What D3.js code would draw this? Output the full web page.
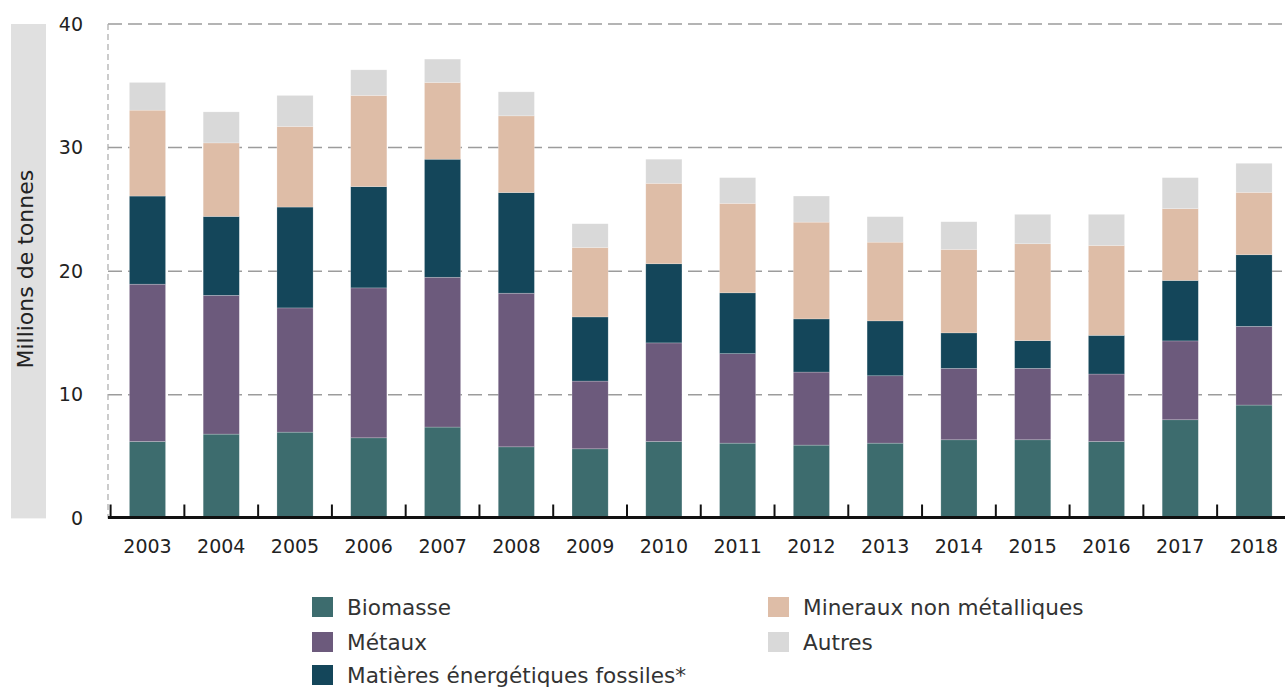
<!DOCTYPE html>
<html><head><meta charset="utf-8">
<script src="https://cdn.jsdelivr.net/npm/d3@7"></script>
<style>body{margin:0;background:#fff}svg{display:block}text{font-family:"DejaVu Sans",sans-serif}</style>
</head><body><svg id="c" width="1285" height="689"></svg>
<script>
const years = ["2003","2004","2005","2006","2007","2008","2009","2010","2011","2012","2013","2014","2015","2016","2017","2018"];
const biomasse  = [6.22,6.82,6.98,6.52,7.39,5.79,5.63,6.22,6.09,5.93,6.09,6.36,6.36,6.22,7.98,9.17];
const metaux    = [12.73,11.23,10.05,12.13,12.12,12.43,5.48,7.98,7.24,5.91,5.45,5.78,5.78,5.46,6.38,6.37];
const fossiles  = [7.13,6.38,8.16,8.19,9.55,8.14,5.19,6.40,4.92,4.30,4.44,2.87,2.24,3.13,4.89,5.79];
const mineraux  = [6.95,5.95,6.52,7.38,6.21,6.21,5.62,6.51,7.24,7.83,6.37,6.75,7.84,7.27,5.81,5.05];
const autres    = [2.24,2.51,2.51,2.07,1.89,1.94,1.92,1.95,2.08,2.11,2.06,2.24,2.38,2.52,2.51,2.35];
const seriesNames = ["Biomasse","Métaux","Matières énergétiques fossiles*","Mineraux non métalliques","Autres"];
const seriesColors = ["#3d6c6e","#6c5a7c","#14465a","#debda7","#d9d9d9"];
const yTicks = [0,10,20,30,40];
const yLabel = "Millions de tonnes";

const keys = ["bio","met","foss","min","aut"];
const table = years.map((y,i)=>({year:y,bio:biomasse[i],met:metaux[i],foss:fossiles[i],min:mineraux[i],aut:autres[i]}));
const stack = d3.stack().keys(keys)(table);

const svg = d3.select("#c");
const x = d3.scaleBand().domain(years).range([110.6,1290.9]).paddingInner(0.51).paddingOuter(0.255);
const y = d3.scaleLinear().domain([0,40]).range([518.4,24]);
const xLeft = 108;

// y label box
svg.append("rect").attr("x",11).attr("y",y(40)).attr("width",35).attr("height",y(0)-y(40)).attr("fill","#e0e0e0");
svg.append("text").attr("transform",`translate(33,${(y(0)+y(40))/2 - 2}) rotate(-90)`)
  .attr("text-anchor","middle").attr("font-size",22).attr("fill","#222").text(yLabel);

// grid
svg.append("g").selectAll("line").data(yTicks.filter(d=>d>0)).join("line")
  .attr("x1",xLeft).attr("x2",1285).attr("y1",d=>y(d)).attr("y2",d=>y(d))
  .attr("stroke","#9c9c9c").attr("stroke-width",1.5).attr("stroke-dasharray","14,6");
svg.append("line").attr("x1",xLeft).attr("x2",xLeft).attr("y1",y(40)).attr("y2",y(0))
  .attr("stroke","#aaa").attr("stroke-width",1.2).attr("stroke-dasharray","6,4");

// y tick labels
svg.append("g").selectAll("text").data(yTicks).join("text")
  .attr("x",83).attr("y",d=>y(d)).attr("dy","0.35em").attr("text-anchor","end")
  .attr("font-size",19).attr("fill","#222").text(d=>d);

// bars
svg.append("g").selectAll("g").data(stack).join("g").attr("fill",(d,i)=>seriesColors[i])
  .selectAll("rect").data(d=>d).join("rect")
  .attr("x",d=>x(d.data.year)).attr("width",x.bandwidth())
  .attr("y",d=>y(d[1])).attr("height",d=>y(d[0])-y(d[1]))
  .attr("stroke","#ffffff").attr("stroke-opacity",0.35).attr("stroke-width",0.6);

// x axis
const y0 = 517.5;
svg.append("line").attr("x1",xLeft).attr("x2",1285).attr("y1",y0).attr("y2",y0).attr("stroke","#111").attr("stroke-width",3);
const bounds = years.map((d,i)=>x(d)-x.step()*x.paddingInner()/2);
svg.append("g").selectAll("line").data(bounds).join("line")
  .attr("x1",d=>d).attr("x2",d=>d).attr("y1",y0-13).attr("y2",y0)
  .attr("stroke","#111").attr("stroke-width",2);
svg.append("g").selectAll("text").data(years).join("text")
  .attr("x",d=>x(d)+x.bandwidth()/2).attr("y",553).attr("text-anchor","middle")
  .attr("font-size",19).attr("fill","#222").text(d=>d);

// legend
const legPos = [[312,607],[312,642],[312,675],[768,607],[768,642]];
const leg = svg.append("g").selectAll("g").data(seriesNames).join("g")
  .attr("transform",(d,i)=>`translate(${legPos[i][0]},${legPos[i][1]})`);
leg.append("rect").attr("x",0).attr("y",-10).attr("width",21).attr("height",20).attr("fill",(d,i)=>seriesColors[i]);
leg.append("text").attr("x",35).attr("y",0).attr("dy","0.35em").attr("font-size",21.6).attr("fill","#333").text(d=>d);
</script></body></html>
